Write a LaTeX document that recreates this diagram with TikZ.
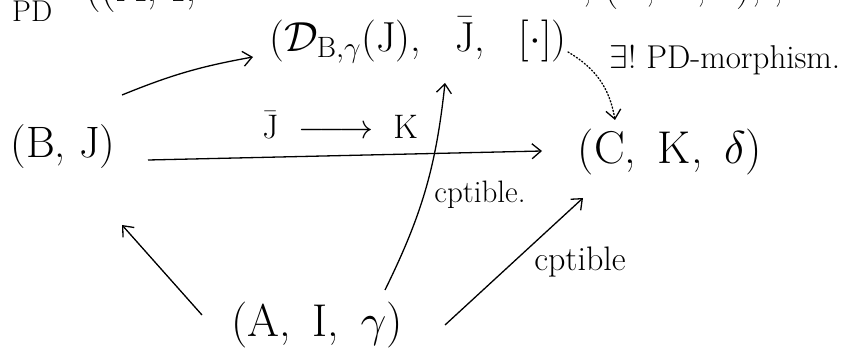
\documentclass[tikz,border=0pt]{standalone}
\usepackage{fix-cm}
\usetikzlibrary{arrows.meta}
\begin{document}
\begin{tikzpicture}[x=1pt,y=-1pt,
  obj/.style={inner sep=0pt, font=\fontsize{46}{54}\selectfont},
  lab/.style={inner sep=0pt},
  arr/.style={line width=1.3pt, -{Straight Barb[length=9pt,width=15pt,line width=1.3pt]}},
  dotarr/.style={arr, dotted, line cap=round}]
\useasboundingbox (0,0) rectangle (846,358);
% clipped top line
\node[lab, anchor=base west, font=\fontsize{30}{36}\selectfont] (pd) at (12,22) {PD};
\node[lab, anchor=base west, font=\fontsize{44}{50}\selectfont] (pdl) at (85,2) {((A, I,};
\node[lab, anchor=base west, font=\fontsize{40}{48}\selectfont] (pdr) at (582,0) {, (C, K, $\delta$), ,};
% objects
\node[obj, font=\fontsize{44}{52}\selectfont] (bj) at (63,147) {(B, J)};
\node[obj, font=\fontsize{42}{48}\selectfont] (top) at (418,40) {($\mathcal{D}_{\mathrm{B},\gamma}$(J),\enspace\ $\bar{\mathrm{J}}$,\enspace\ [$\cdot$])};
\node[obj] (ckd) at (670,152) {(C,\, K,\, $\delta$)};
\node[obj] (aig) at (317,325) {(A,\, I,\, $\gamma$)};
% labels
\node[lab, font=\fontsize{34}{40}\selectfont] (jk) at (340,125) {$\bar{\mathrm{J}}\ \relbar\joinrel\relbar\joinrel\rightarrow\ \mathrm{K}$};
\node[lab, font=\fontsize{31}{36}\selectfont] (cpt1) at (480,195) {cptible.};
\node[lab, font=\fontsize{34}{40}\selectfont] (cpt2) at (580,262) {cptible};
\node[lab, font=\fontsize{33}{38}\selectfont] (ex) at (725,60) {$\exists$!\ PD-morphism.};
% connectors
\draw[arr] ([shift={(59,-52)}]bj.center) to[bend left=6] ([shift={(-165,17)}]top.center);
\draw[arr] ([shift={(85,13)}]bj.center) -- ([shift={(-128,-1)}]ckd.center);
\draw[arr] ([shift={(-115,-10)}]aig.center) -- ([shift={(59,78)}]bj.center);
\draw[arr] ([shift={(68,-35)}]aig.center) to[bend right=10] ([shift={(27,43)}]top.center);
\draw[arr] ([shift={(128,0)}]aig.center) -- ([shift={(-87,46)}]ckd.center);
\draw[dotarr] ([shift={(150,12)}]top.center) to[bend left=25] ([shift={(-55,-32)}]ckd.center);
\end{tikzpicture}
\end{document}
